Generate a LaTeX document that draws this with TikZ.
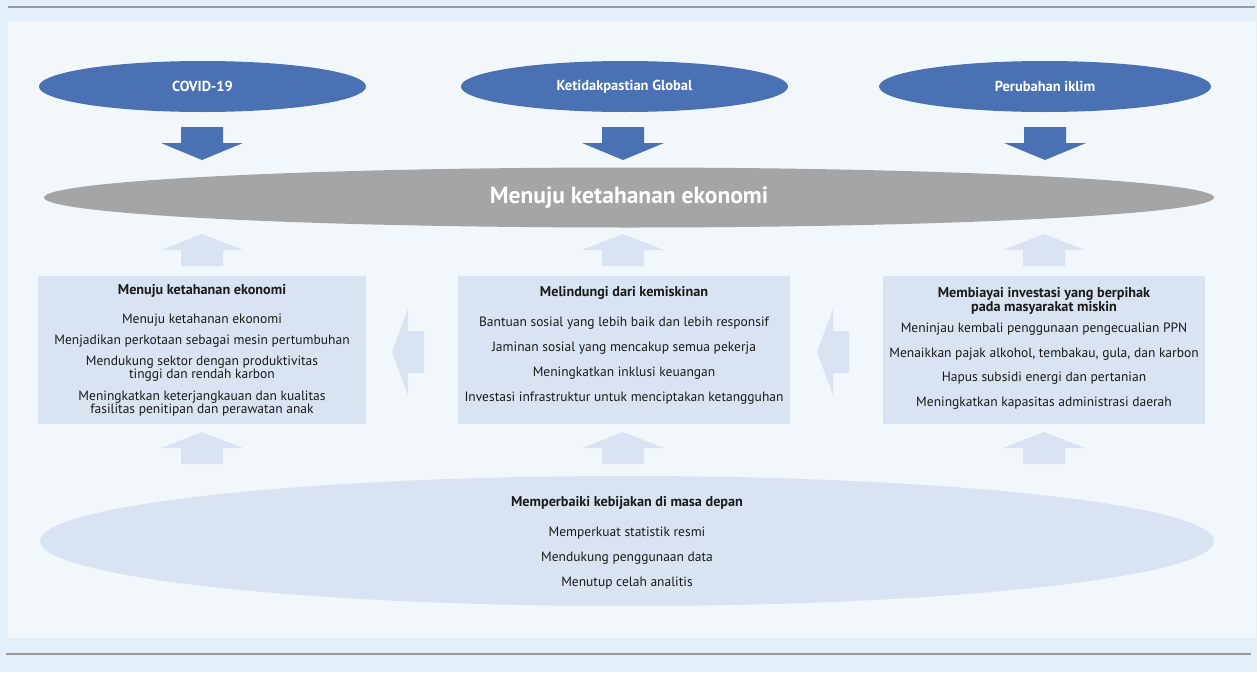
\documentclass[tikz,border=0pt]{standalone}
\usepackage{fontspec}
\usetikzlibrary{shapes.geometric}
\setmainfont{PT Sans}
\definecolor{bgc}{HTML}{E3EFF9}
\definecolor{panelc}{HTML}{F2F7FB}
\definecolor{darkb}{HTML}{4A71B4}
\definecolor{grayc}{HTML}{A5A5A5}
\definecolor{lightb}{HTML}{DAE3F1}
\definecolor{linec}{HTML}{9A9A9A}
\definecolor{txt}{HTML}{1A1A1A}
\tikzset{
  topell/.style={ellipse, fill=darkb, minimum width=327pt, minimum height=51pt, inner sep=0pt, text=white, font=\fontsize{14.5}{16}\selectfont\bfseries},
  boxc/.style={rectangle, fill=lightb, inner sep=0pt},
  ln/.style={text=txt, font=\fontsize{13.5}{12.5}\selectfont, align=center, inner sep=0pt, yshift=-1.5pt},
  ttl/.style={text=txt, font=\fontsize{14.2}{13}\selectfont\bfseries, align=center, inner sep=0pt, yshift=-1.5pt},
  downarr/.style={fill=darkb},
  liteArr/.style={fill=lightb},
}
\begin{document}
\begin{tikzpicture}[x=1pt,y=-1pt]
\useasboundingbox (0,0) rectangle (1257,672);
\fill[bgc] (0,0) rectangle (1257,672);
\fill[panelc] (8,21) rectangle (1256,638);
\draw[linec, line width=1.3pt] (8,7) -- (1255,7);
\draw[linec, line width=1.3pt] (6,654) -- (1251,654);

% top ellipses
\node[topell] (covid) at (202.5,86.5) {COVID-19};
\node[topell] (global) at (624.5,86.5) {Ketidakpastian Global};
\node[topell, minimum width=332pt] (iklim) at (1045,86.5) {Perubahan iklim};

% down arrows
\foreach \cx in {202,623,1045}{
  \fill[downarr] (\cx-21,127) -- (\cx+21,127) -- (\cx+21,143) -- (\cx+41,143) -- (\cx,160) -- (\cx-41,143) -- (\cx-21,143) -- cycle;
}

% gray ellipse
\node[ellipse, fill=grayc, minimum width=1170pt, minimum height=60pt, inner sep=0pt, text=white, font=\fontsize{23.5}{26}\selectfont\bfseries] (main) at (629,197.5) {Menuju ketahanan ekonomi};

% up arrows
\foreach \cx in {202,623,1044}{
  \foreach \dy in {0,198}{
    \fill[liteArr] (\cx,234+\dy) -- (\cx+41,250+\dy) -- (\cx+21,250+\dy) -- (\cx+21,266+\dy) -- (\cx-21,266+\dy) -- (\cx-21,250+\dy) -- (\cx-41,250+\dy) -- cycle;
  }
}

% left arrows
\foreach \tx in {392,817}{
  \fill[liteArr] (\tx,352) -- (\tx+16,309) -- (\tx+16,331) -- (\tx+32,331) -- (\tx+32,373) -- (\tx+16,373) -- (\tx+16,395) -- cycle;
}

% boxes
\node[boxc, minimum width=328pt, minimum height=148pt] (boxA) at (202,350) {};
\node[boxc, minimum width=332pt, minimum height=148pt] (boxB) at (624,350) {};
\node[boxc, minimum width=322pt, minimum height=148pt] (boxC) at (1044,350) {};

% box A text
\node[ttl] (a0) at (202,289) {Menuju ketahanan ekonomi};
\node[ln] (a1) at (202,319) {Menuju ketahanan ekonomi};
\node[ln] (a2) at (202,340) {Menjadikan perkotaan sebagai mesin pertumbuhan};
\node[ln] (a3) at (202,367) {Mendukung sektor dengan produktivitas\\tinggi dan rendah karbon};
\node[ln] (a4) at (202,402) {Meningkatkan keterjangkauan dan kualitas\\fasilitas penitipan dan perawatan anak};

% box B text
\node[ttl] (b0) at (624,291) {Melindungi dari kemiskinan};
\node[ln] (b1) at (624,322) {Bantuan sosial yang lebih baik dan lebih responsif};
\node[ln] (b2) at (624,347) {Jaminan sosial yang mencakup semua pekerja};
\node[ln] (b3) at (624,372) {Meningkatkan inklusi keuangan};
\node[ln] (b4) at (624,397) {Investasi infrastruktur untuk menciptakan ketangguhan};

% box C text
\node[ttl] (c0) at (1044,299.5) {Membiayai investasi yang berpihak\\pada masyarakat miskin};
\node[ln] (c1) at (1044,328) {Meninjau kembali penggunaan pengecualian PPN};
\node[ln] (c2) at (1044,353) {Menaikkan pajak alkohol, tembakau, gula, dan karbon};
\node[ln] (c3) at (1044,377) {Hapus subsidi energi dan pertanian};
\node[ln] (c4) at (1044,402) {Meningkatkan kapasitas administrasi daerah};

% bottom ellipse
\node[ellipse, fill=lightb, minimum width=1174pt, minimum height=130pt, inner sep=0pt] (bottom) at (627,541) {};
\node[ttl] (d0) at (627,501) {Memperbaiki kebijakan di masa depan};
\node[ln] (d1) at (627,532) {Memperkuat statistik resmi};
\node[ln] (d2) at (627,557) {Mendukung penggunaan data};
\node[ln] (d3) at (627,582) {Menutup celah analitis};
\end{tikzpicture}
\end{document}
